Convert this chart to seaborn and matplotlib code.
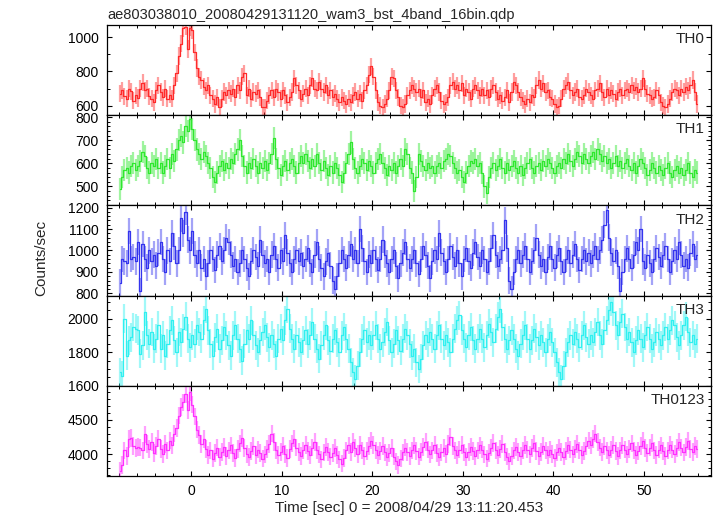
import numpy as np
import pandas as pd
import matplotlib
matplotlib.use("Agg")
import matplotlib.pyplot as plt
from matplotlib.ticker import MultipleLocator
import seaborn as sns

# 0.25 s bins from -8 s to 56 s
bin_width = 0.25
time = -8 + bin_width * np.arange(256) + bin_width / 2

th0 = [
    670, 690, 655, 640, 700, 685, 630, 660, 645, 700, 735, 690, 700, 655, 640, 620,
    690, 720, 680, 650, 700, 640, 665, 640, 720, 790, 890, 960, 1050, 1060, 930, 1055,
    1040, 910, 820, 770, 750, 710, 690, 720, 660, 640, 610, 650, 590, 640, 680, 660,
    690, 670, 700, 650, 720, 690, 770, 790, 660, 700, 640, 680, 670, 690, 650, 590,
    590, 630, 660, 690, 650, 700, 680, 640, 690, 660, 620, 650, 680, 760, 720, 690,
    640, 670, 700, 660, 720, 760, 700, 690, 740, 700, 680, 720, 660, 690, 650, 670,
    640, 620, 650, 630, 610, 640, 620, 660, 680, 640, 670, 630, 690, 720, 780, 830,
    770, 690, 620, 600, 590, 610, 640, 690, 770, 760, 690, 650, 600, 590, 610, 660,
    690, 720, 700, 680, 700, 650, 690, 620, 640, 610, 660, 700, 720, 680, 630, 610,
    620, 650, 720, 740, 700, 720, 690, 730, 660, 700, 680, 640, 700, 720, 690, 660,
    700, 660, 690, 650, 700, 720, 680, 640, 660, 630, 650, 690, 620, 680, 740, 720,
    680, 650, 630, 610, 640, 620, 660, 650, 720, 750, 700, 730, 680, 690, 650, 640,
    610, 590, 600, 640, 700, 720, 740, 690, 660, 680, 700, 650, 640, 660, 700, 680,
    660, 640, 690, 700, 730, 680, 650, 700, 660, 690, 670, 640, 680, 700, 660, 690,
    700, 680, 720, 690, 710, 680, 700, 760, 700, 670, 660, 640, 650, 690, 660, 620,
    600, 590, 610, 640, 680, 700, 690, 660, 700, 680, 710, 690, 720, 750, 680, 610,
]

th1 = [
    490, 540, 570, 580, 560, 590, 600, 570, 590, 610, 650, 630, 580, 560, 600, 590,
    620, 580, 600, 560, 590, 620, 580, 640, 610, 660, 700, 720, 690, 760, 740, 790,
    750, 700, 660, 640, 620, 650, 630, 600, 580, 540, 520, 560, 590, 610, 570, 600,
    580, 620, 600, 640, 660, 700, 630, 590, 560, 600, 580, 620, 590, 560, 600, 580,
    610, 570, 600, 640, 710, 620, 580, 550, 590, 610, 570, 600, 620, 590, 560, 600,
    630, 600, 640, 610, 580, 620, 590, 640, 600, 570, 610, 580, 550, 590, 560, 600,
    580, 550, 520, 560, 600, 640, 690, 620, 580, 560, 590, 620, 600, 570, 610, 590,
    560, 600, 620, 640, 600, 580, 550, 590, 570, 600, 560, 590, 620, 590, 660, 640,
    580, 560, 480, 540, 640, 610, 590, 570, 600, 580, 590, 560, 590, 600, 580, 610,
    620, 640, 630, 600, 580, 560, 570, 540, 520, 560, 590, 610, 600, 620, 590, 600,
    560, 500, 470, 540, 580, 600, 570, 590, 620, 580, 560, 600, 570, 590, 610, 580,
    560, 590, 550, 580, 600, 620, 580, 560, 590, 600, 570, 610, 590, 620, 600, 580,
    560, 590, 600, 580, 620, 600, 640, 610, 590, 620, 650, 630, 600, 640, 620, 600,
    630, 650, 620, 660, 640, 610, 630, 600, 620, 580, 600, 630, 590, 610, 580, 600,
    620, 590, 570, 600, 560, 590, 620, 600, 580, 550, 570, 600, 580, 560, 590, 570,
    550, 580, 600, 560, 540, 570, 590, 560, 580, 550, 570, 600, 560, 540, 570, 560,
]

th2 = [
    850, 960, 950, 940, 1090, 960, 970, 950, 1040, 810, 1030, 960, 920, 1000, 950, 980,
    930, 990, 1040, 960, 900, 1000, 950, 1080, 1020, 940, 1000, 1150, 1080, 1180, 1050, 1000,
    1090, 980, 940, 1000, 920, 960, 880, 940, 1000, 960, 910, 980, 1020, 950, 1000, 1060,
    1040, 980, 930, 960, 900, 940, 1000, 960, 920, 880, 950, 1000, 970, 930, 1050, 980,
    940, 960, 900, 980, 1020, 960, 920, 1000, 950, 1070, 990, 940, 900, 960, 1000, 950,
    990, 930, 960, 1010, 940, 900, 980, 1040, 960, 920, 880, 950, 990, 930, 860, 820,
    880, 940, 1000, 960, 920, 980, 1030, 960, 1000, 940, 1100, 1010, 950, 900, 980, 940,
    1000, 960, 910, 960, 1050, 980, 940, 900, 960, 1000, 930, 870, 940, 990, 1040, 960,
    920, 960, 1000, 940, 890, 960, 1020, 980, 930, 870, 950, 1000, 960, 1080, 990, 950,
    900, 960, 1020, 970, 930, 1000, 940, 880, 960, 1010, 950, 920, 990, 1040, 970, 930,
    1000, 960, 900, 950, 1010, 1070, 980, 930, 960, 1000, 1140, 1010, 860, 820, 900, 960,
    1000, 940, 980, 1020, 960, 900, 950, 1000, 1060, 980, 930, 960, 900, 970, 1020, 960,
    920, 980, 1010, 950, 900, 960, 1000, 940, 980, 1030, 960, 910, 960, 1000, 950, 990,
    940, 980, 1020, 960, 1000, 1050, 1120, 1190, 1060, 990, 950, 1000, 930, 810, 900, 960,
    1010, 960, 920, 980, 1040, 1000, 1100, 950, 920, 980, 940, 900, 960, 1010, 970, 930,
    980, 1020, 960, 900, 950, 1000, 960, 1040, 980, 930, 960, 920, 990, 1030, 960, 980,
]

th3 = [
    1680, 1660, 2000, 1780, 1870, 1890, 1950, 1940, 1930, 1790, 1840, 2040, 1900, 1850, 1920, 1820,
    1880, 1960, 1820, 1900, 1780, 1850, 1930, 1990, 1870, 1800, 1920, 1860, 1940, 2010, 1880, 1830,
    1900, 1850, 1960, 1920, 1880, 1990, 2060, 1930, 1850, 1780, 1890, 1940, 1820, 1870, 1950, 1900,
    1840, 1780, 1900, 1960, 1880, 1820, 1750, 1850, 1930, 1880, 1990, 1900, 1840, 1800, 1870, 1920,
    1960, 1890, 1830, 1900, 1850, 1780, 1880, 1940, 1870, 1990, 2060, 1940, 1880, 1820, 1900, 1860,
    1800, 1870, 1930, 1850, 1900, 1980, 1880, 1820, 1760, 1840, 1900, 1960, 1870, 1810, 1880, 1930,
    1860, 1800, 1900, 1950, 1880, 1820, 1740, 1680, 1640, 1720, 1800, 1880, 1930, 1860, 1900, 1840,
    1900, 1960, 1880, 1820, 1860, 1920, 1980, 1870, 1800, 1850, 1930, 1870, 1810, 1880, 1940, 1900,
    1850, 1780, 1820, 1740, 1700, 1760, 1840, 1900, 1860, 1920, 1880, 1820, 1900, 1960, 1880, 1840,
    1900, 1860, 1800, 1880, 1940, 1990, 2020, 1930, 1880, 1830, 1900, 1950, 1870, 1820, 1880, 1940,
    1880, 1830, 1900, 1970, 1920, 1860, 1940, 2010, 2060, 1950, 1880, 1820, 1870, 1930, 1880, 1820,
    1780, 1850, 1900, 1960, 1880, 1820, 1870, 1940, 1890, 1840, 1900, 1860, 1800, 1880, 1920, 1860,
    1800, 1740, 1680, 1640, 1720, 1800, 1860, 1900, 1850, 1920, 1880, 1830, 1900, 1960, 1890, 1850,
    1900, 1860, 1920, 1980, 1900, 1850, 1930, 1990, 2050, 2100, 2040, 1960, 1900, 1980, 2030, 1950,
    1880, 1920, 1860, 1800, 1870, 1930, 1880, 1830, 1900, 1950, 1880, 1820, 1860, 1920, 1880, 1840,
    1900, 1950, 1880, 1930, 1990, 1960, 1890, 1840, 1900, 1960, 2010, 1920, 1860, 1900, 1850, 1880,
]

th0123 = [
    3760, 3850, 4060, 3980, 4220, 4240, 4120, 4090, 4110, 4100, 4060, 4290, 4150, 4080, 4180, 4020,
    4120, 4230, 4080, 4010, 4150, 4060, 4200, 4130, 4300, 4380, 4560, 4680, 4750, 4870, 4640, 4900,
    4720, 4550, 4360, 4280, 4150, 4220, 4080, 3990, 4060, 3940, 4020, 4100, 3960, 4040, 4110, 3980,
    4060, 4130, 4020, 3950, 4080, 4160, 4240, 4090, 4010, 3960, 4050, 4120, 3990, 4070, 4020, 3940,
    4000, 4080, 4150, 4300, 4180, 4060, 3990, 4040, 4120, 4010, 3950, 4080, 4160, 4230, 4100, 4040,
    3980, 4060, 4140, 4050, 3990, 4100, 4180, 4060, 4000, 3930, 4030, 4110, 4040, 3970, 4020, 4090,
    3990, 3930, 3870, 3950, 4060, 4130, 4040, 4180, 4090, 4010, 4140, 4060, 3980, 4050, 4120, 4200,
    4140, 4060, 3990, 4050, 4120, 4030, 3960, 4020, 4090, 3970, 3900, 3850, 3940, 4030, 4100, 4040,
    3980, 4060, 4130, 4050, 3970, 4040, 4110, 4180, 4070, 4000, 4060, 4140, 4020, 3960, 4030, 4090,
    4010, 4150, 4250, 4120, 4060, 3990, 4070, 4140, 4030, 3960, 4040, 4110, 4050, 3980, 4060, 4130,
    4070, 4000, 3940, 4020, 4100, 4170, 4060, 3990, 4080, 4150, 4040, 3970, 3900, 3980, 4060, 4110,
    4040, 3980, 4060, 4140, 4070, 4000, 4090, 4160, 4050, 3980, 4040, 4120, 4060, 3990, 4070, 4010,
    3950, 4030, 4100, 4040, 3970, 4050, 4130, 4070, 4000, 4080, 4150, 4060, 3990, 4050, 4120, 4200,
    4130, 4220, 4300, 4180, 4100, 4040, 4120, 4060, 3990, 4070, 4140, 4050, 3980, 4060, 4130, 4070,
    4000, 4080, 4160, 4060, 3990, 4050, 4120, 4200, 4090, 4020, 4100, 4170, 4060, 3990, 4070, 4130,
    4050, 3980, 4060, 4140, 4070, 4010, 4090, 4180, 4100, 4030, 4110, 4190, 4080, 4040, 4120, 4080,
]

band_names = ["TH0", "TH1", "TH2", "TH3", "TH0123"]
band_rates = [th0, th1, th2, th3, th0123]
band_errors = [50, 48, 62, 86, 127]          # typical 1-sigma error per bin
band_colors = ["#ff2a2a", "#2ee82e", "#3434ee", "#30f0f0", "#ff30ff"]
y_limits = [(545, 1070), (418, 808), (790, 1210), (1600, 2137), (3690, 4990)]
y_major = [200, 100, 100, 200, 500]
y_minor = [100, 20, 20, 50, 100]

title = "ae803038010_20080429131120_wam3_bst_4band_16bin.qdp"
x_label = "Time [sec] 0 = 2008/04/29 13:11:20.453"

sns.set_theme(style="ticks")
plt.rcParams["font.family"] = ["Liberation Sans", "DejaVu Sans"]
plt.rcParams.update({
    "axes.linewidth": 0.9,
    "xtick.direction": "in", "ytick.direction": "in",
    "xtick.top": True, "ytick.right": True,
    "xtick.major.size": 3.5, "ytick.major.size": 3.5,
    "xtick.minor.size": 2, "ytick.minor.size": 2,
    "xtick.major.width": 0.8, "ytick.major.width": 0.8,
    "xtick.minor.width": 0.7, "ytick.minor.width": 0.7,
})

fig, axes = plt.subplots(5, 1, sharex=True, figsize=(7.17, 5.16), dpi=100,
                         gridspec_kw={"hspace": 0})
fig.subplots_adjust(left=107 / 717, right=711 / 717, top=1 - 25 / 516, bottom=1 - 476 / 516)

for i, ax in enumerate(axes):
    df = pd.DataFrame({"time": time, "rate": band_rates[i]})
    c = band_colors[i]
    ax.errorbar(df["time"], df["rate"], yerr=band_errors[i], fmt="none",
                ecolor=c, elinewidth=1.6, alpha=0.45, zorder=2)
    sns.lineplot(data=df, x="time", y="rate", ax=ax, color=c, lw=0.9,
                 drawstyle="steps-mid", estimator=None, zorder=3)
    ax.set_ylim(*y_limits[i])
    ax.yaxis.set_major_locator(MultipleLocator(y_major[i]))
    ax.yaxis.set_minor_locator(MultipleLocator(y_minor[i]))
    ax.xaxis.set_major_locator(MultipleLocator(10))
    ax.xaxis.set_minor_locator(MultipleLocator(2))
    ax.tick_params(which="both", direction="in", top=True, right=True,
                   labelsize=10, pad=6, colors="black")
    ax.set_xlabel("")
    ax.set_ylabel("")
    for s in ax.spines.values():
        s.set_color("black")
    ax.text(0.99, 0.92, band_names[i], transform=ax.transAxes,
            ha="right", va="top", fontsize=11)

axes[-1].set_xlim(-9.3, 57.4)
axes[-1].set_xlabel(x_label, fontsize=11, labelpad=2)
axes[0].set_title(title, loc="left", fontsize=10.5, pad=4)
fig.text(41 / 717, 0.5, "Counts/sec", rotation=90, ha="center", va="center", fontsize=11)

fig.savefig("out.png", dpi=100)
